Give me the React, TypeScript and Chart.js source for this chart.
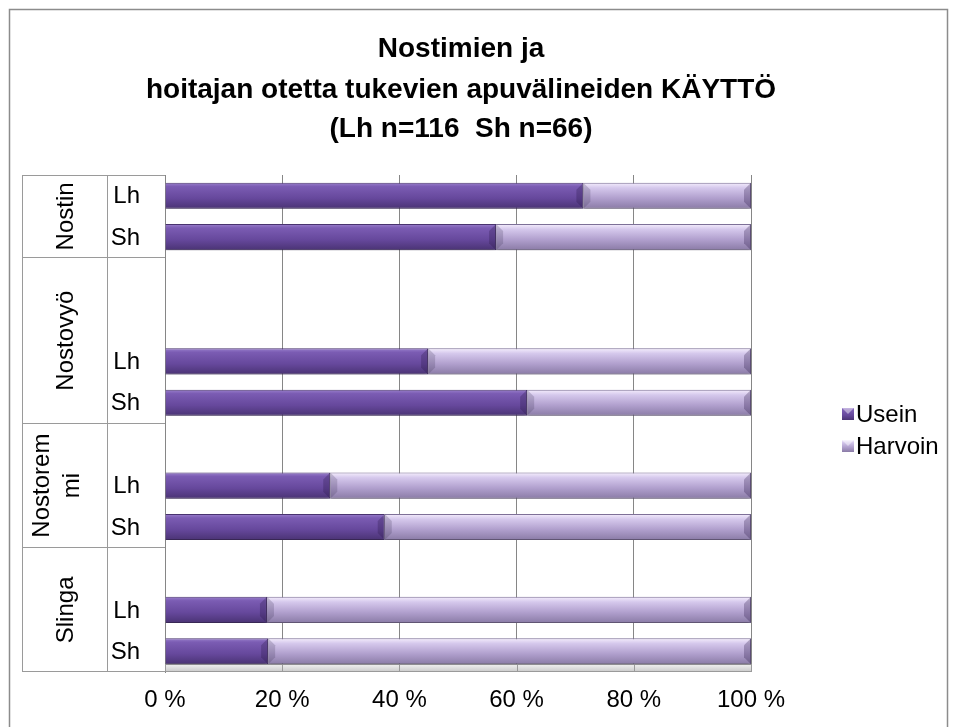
import React, { useEffect, useRef } from 'react';
import { Chart, registerables } from 'chart.js';

Chart.register(...registerables);

const titleLines = ['Nostimien ja', 'hoitajan otetta tukevien apuvälineiden KÄYTTÖ', '(Lh n=116  Sh n=66)'];
const groupLabelLines = [['Nostin'], ['Nostovyö'], ['Nostorem', 'mi'], ['Slinga']];
const groupStart = [0, 2, 6, 9];
const groupEnd = [1, 5, 8, 11];
const rowLabels = ['Lh', 'Sh', '', '', 'Lh', 'Sh', '', 'Lh', 'Sh', '', 'Lh', 'Sh'];
const usein = [71.4, 56.5, null, null, 44.9, 61.8, null, 28.2, 37.5, null, 17.4, 17.6];
const harvoin = [28.6, 43.5, null, null, 55.1, 38.2, null, 71.8, 62.5, null, 82.6, 82.4];
const seriesNames = ['Usein', 'Harvoin'];
const xTickStep = 20;

const FONT = 'Arial, "Liberation Sans", sans-serif';
const BAR_PCT = 0.63;

const useinStops: [number, string][] = [
  [0, '#9a80cc'],
  [0.15, '#7b5cb3'],
  [0.6, '#66489c'],
  [1, '#4a3374'],
];
const harvoinStops: [number, string][] = [
  [0, '#f5eefd'],
  [0.2, '#d5c8ec'],
  [0.6, '#b09fcd'],
  [1, '#8a7ba6'],
];

function barGradient(ctx: any, stops: [number, string][]) {
  const chart = ctx.chart;
  const y = chart.scales && chart.scales.y;
  if (!y || ctx.dataIndex == null || !isFinite(y.height) || y.height <= 0) return stops[2][1];
  const c = y.getPixelForValue(ctx.dataIndex);
  const h = ((y.height / rowLabels.length) * BAR_PCT) / 2;
  const g = chart.ctx.createLinearGradient(0, c - h, 0, c + h);
  stops.forEach(([o, col]) => g.addColorStop(o, col));
  return g;
}

const decorPlugin = {
  id: 'decor',
  beforeDraw(chart: any) {
    const { ctx, width, height } = chart;
    ctx.save();
    ctx.fillStyle = '#ffffff';
    ctx.fillRect(0, 0, width, height);
    ctx.strokeStyle = '#8c8c8c';
    ctx.lineWidth = 1.5;
    ctx.strokeRect(9.5, 9.5, 938, height + 20);
    ctx.restore();
  },
  beforeDatasetsDraw(chart: any) {
    const { ctx, chartArea, scales } = chart;
    const x = scales.x;
    ctx.save();
    // 3D floor strip
    const top = chartArea.bottom - 8;
    const g = ctx.createLinearGradient(0, top, 0, chartArea.bottom);
    g.addColorStop(0, '#f2f2f2');
    g.addColorStop(1, '#c9c9c9');
    ctx.fillStyle = g;
    ctx.fillRect(chartArea.left, top, chartArea.right - chartArea.left, chartArea.bottom - top);
    ctx.strokeStyle = '#9a9a9a';
    ctx.lineWidth = 1;
    ctx.beginPath();
    ctx.moveTo(chartArea.left, top + 0.5);
    ctx.lineTo(chartArea.right, top + 0.5);
    ctx.moveTo(chartArea.left, chartArea.bottom - 0.5);
    ctx.lineTo(chartArea.right, chartArea.bottom - 0.5);
    for (let v = 0; v <= 100; v += xTickStep) {
      const px = Math.round(x.getPixelForValue(v)) + 0.5;
      ctx.moveTo(px, top);
      ctx.lineTo(px, chartArea.bottom);
    }
    ctx.stroke();
    ctx.restore();
    // soft shadow under bars
    ctx.save();
    ctx.shadowColor = 'rgba(0,0,0,0.28)';
    ctx.shadowBlur = 4;
    ctx.shadowOffsetY = 3;
  },
  afterDatasetsDraw(chart: any) {
    const { ctx } = chart;
    ctx.restore();
    // bevel ends
    ctx.save();
    chart.data.datasets.forEach((_: any, di: number) => {
      const meta = chart.getDatasetMeta(di);
      meta.data.forEach((el: any, i: number) => {
        const v = chart.data.datasets[di].data[i];
        if (v == null) return;
        const { x, y, base, height } = el.getProps(['x', 'y', 'base', 'height'], true);
        const top = y - height / 2;
        const bot = y + height / 2;
        const left = Math.min(x, base);
        const right = Math.max(x, base);
        const b = Math.min(7, (right - left) / 3);
        ctx.fillStyle = 'rgba(40,20,70,0.28)';
        ctx.beginPath();
        ctx.moveTo(right, top);
        ctx.lineTo(right - b, top + b);
        ctx.lineTo(right - b, bot - b);
        ctx.lineTo(right, bot);
        ctx.closePath();
        ctx.fill();
        if (di === 1) {
          ctx.fillStyle = 'rgba(60,50,80,0.22)';
          ctx.beginPath();
          ctx.moveTo(left, top);
          ctx.lineTo(left + b, top + b);
          ctx.lineTo(left + b, bot - b);
          ctx.lineTo(left, bot);
          ctx.closePath();
          ctx.fill();
        }
      });
    });
    ctx.restore();
  },
  afterDraw(chart: any) {
    const { ctx, chartArea, scales } = chart;
    const y = scales.y;
    ctx.save();
    // Title
    ctx.fillStyle = '#000000';
    ctx.textAlign = 'center';
    ctx.textBaseline = 'middle';
    ctx.font = `bold 28px ${FONT}`;
    const titleY = [49, 90, 129];
    titleLines.forEach((t, i) => ctx.fillText(t, 461, titleY[i]));

    // Category table
    const rowH = y.height / rowLabels.length;
    const tableLeft = 22.5;
    const midX = 107.5;
    const right = chartArea.left;
    ctx.strokeStyle = '#9a9a9a';
    ctx.lineWidth = 1;
    ctx.beginPath();
    ctx.moveTo(tableLeft, chartArea.top);
    ctx.lineTo(tableLeft, chartArea.bottom);
    ctx.moveTo(midX, chartArea.top);
    ctx.lineTo(midX, chartArea.bottom);
    const topY = Math.round(chartArea.top) + 0.5;
    ctx.moveTo(tableLeft, topY);
    ctx.lineTo(right, topY);
    groupEnd.forEach((e) => {
      const by = Math.round(chartArea.top + (e + 1) * rowH) - 0.5;
      ctx.moveTo(tableLeft, by);
      ctx.lineTo(right, by);
    });
    ctx.stroke();

    // Row labels
    ctx.font = `24px ${FONT}`;
    ctx.textAlign = 'right';
    ctx.textBaseline = 'middle';
    rowLabels.forEach((l, i) => {
      if (!l) return;
      ctx.fillText(l, 140, y.getPixelForValue(i) + 1);
    });

    // Group labels (rotated)
    ctx.textAlign = 'center';
    groupLabelLines.forEach((lines, gi) => {
      const cy = chartArea.top + ((groupStart[gi] + groupEnd[gi] + 1) / 2) * rowH;
      const xs = lines.length === 1 ? [66] : [42, 72];
      lines.forEach((ln, li) => {
        ctx.save();
        ctx.translate(xs[li], cy);
        ctx.rotate(-Math.PI / 2);
        ctx.fillText(ln, 0, 0);
        ctx.restore();
      });
    });

    // Legend
    const legendY = [414, 446];
    const stopsArr = [useinStops, harvoinStops];
    ctx.textAlign = 'left';
    seriesNames.forEach((name, i) => {
      const ly = legendY[i];
      const gr = ctx.createLinearGradient(0, ly - 6, 0, ly + 6);
      stopsArr[i].forEach(([o, c]) => gr.addColorStop(o, c));
      ctx.fillStyle = gr;
      ctx.fillRect(842, ly - 6, 12, 12);
      ctx.fillStyle = 'rgba(255,255,255,0.45)';
      ctx.beginPath();
      ctx.moveTo(842, ly - 6);
      ctx.lineTo(854, ly - 6);
      ctx.lineTo(848, ly);
      ctx.closePath();
      ctx.fill();
      ctx.fillStyle = '#000000';
      ctx.fillText(name, 856, ly + 1);
    });
    ctx.restore();
  },
};

export default function App() {
  const ref = useRef<HTMLCanvasElement | null>(null);

  useEffect(() => {
    if (!ref.current) return;
    const chart = new Chart(ref.current, {
      type: 'bar',
      data: {
        labels: rowLabels,
        datasets: [
          {
            label: seriesNames[0],
            data: usein,
            backgroundColor: (c: any) => barGradient(c, useinStops),
            borderColor: '#4a3470',
            borderWidth: 1,
            barPercentage: BAR_PCT,
            categoryPercentage: 1,
          },
          {
            label: seriesNames[1],
            data: harvoin,
            backgroundColor: (c: any) => barGradient(c, harvoinStops),
            borderColor: '#7f7199',
            borderWidth: 1,
            barPercentage: BAR_PCT,
            categoryPercentage: 1,
          },
        ],
      },
      options: {
        indexAxis: 'y',
        responsive: false,
        animation: false,
        layout: { padding: { top: 175, right: 206, bottom: 0, left: 0 } },
        plugins: {
          legend: { display: false },
          title: { display: false },
          tooltip: { enabled: false },
        },
        scales: {
          x: {
            stacked: true,
            min: 0,
            max: 100,
            ticks: {
              stepSize: xTickStep,
              callback: (v: any) => `${v} %`,
              color: '#000000',
              font: { family: FONT, size: 24 },
              padding: 14,
              maxRotation: 0,
            },
            grid: { color: '#868686', drawTicks: false, lineWidth: 1 },
            border: { display: false },
            afterFit: (s: any) => {
              s.height = 55;
            },
          },
          y: {
            stacked: true,
            ticks: { display: false },
            grid: { display: false },
            border: { display: true, color: '#868686' },
            afterFit: (s: any) => {
              s.width = 165;
            },
          },
        },
      },
      plugins: [decorPlugin],
    } as any);
    return () => chart.destroy();
  }, []);

  return (
    <div style={{ position: 'fixed', left: 0, top: 0, width: 957, height: 727, background: '#fff' }}>
      <canvas ref={ref} width={957} height={727} style={{ width: 957, height: 727 }} />
    </div>
  );
}
